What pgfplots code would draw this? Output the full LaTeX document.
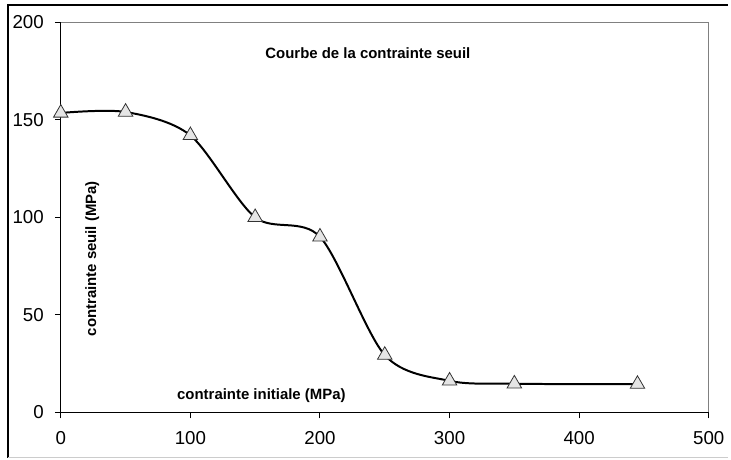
\documentclass[border=0pt]{standalone}
\usepackage{pgfplots}
\pgfplotsset{compat=1.18}
\usepackage{fontspec}
\setmainfont{Liberation Sans}

\begin{document}
\begin{tikzpicture}
\begin{axis}[
    scale only axis,
    width=325.5pt, height=196pt,
    xmin=0, xmax=500, ymin=0, ymax=200,
    axis x line*=bottom, axis y line*=left,
    axis line style={black, line width=0.6pt},
    xtick={0,100,...,500}, ytick={0,50,...,200},
    tick align=outside, major tick length=3pt,
    tick style={black, line width=0.5pt},
    minor tick num=0,
    ticklabel style={font=\fontsize{9.4}{10}\selectfont},
    /pgf/number format/assume math mode=true,
    xticklabel style={yshift=-3pt},
    yticklabel style={xshift=-2pt},
    clip=false,
]
\draw[gray, line width=0.6pt] (rel axis cs:0,1) -- (rel axis cs:1,1) -- (rel axis cs:1,0);

\addplot[black, line width=1pt, smooth, tension=0.5,
    mark=triangle*, mark size=4.2pt,
    mark options={fill=gray!20, draw=black!80, line width=0.4pt}]
coordinates {(0,153.5) (50,154) (100,142) (150,100) (200,90) (250,29.4) (300,16.2) (350,14.7) (445,14.5)};

\node[font=\fontsize{7.5}{8}\selectfont\bfseries] at (axis cs:237,184.4) {Courbe de la contrainte seuil};
\node[font=\fontsize{7.5}{8}\selectfont\bfseries] at (axis cs:154.8,8.5) {contrainte initiale (MPa)};
\node[font=\fontsize{7.5}{8}\selectfont\bfseries, rotate=90] at (axis cs:24.2,78.8) {contrainte seuil (MPa)};

% outer chart frame
\path (axis cs:-46.9,-23.6) rectangle (axis cs:514.6,211.4);
\draw[black, line width=0.6pt] (axis cs:514.6,208.8) -- (axis cs:-40.7,208.8) -- (axis cs:-40.7,-23.6);
\draw[gray!40, line width=0.4pt] (axis cs:-40.7,-23.1) -- (axis cs:514.6,-23.1);
\end{axis}
\end{tikzpicture}
\end{document}
